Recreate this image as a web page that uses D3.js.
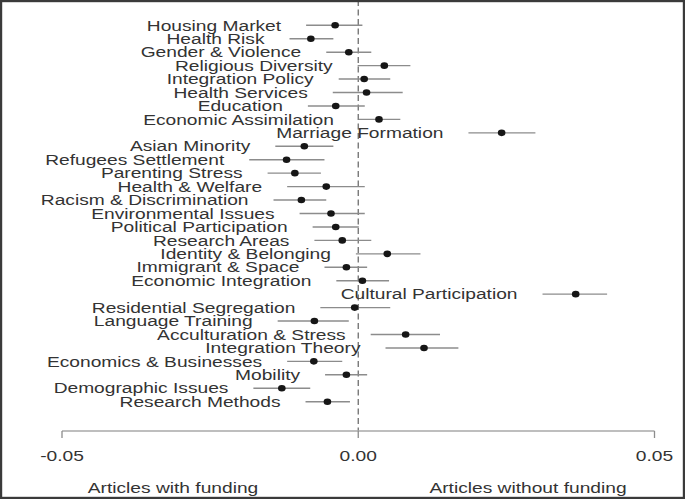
<!DOCTYPE html>
<html>
<head>
<meta charset="utf-8">
<script src="https://cdn.jsdelivr.net/npm/d3@7"></script>
<style>
  body { margin: 0; background: #fff; }
  text { font-family: 'Liberation Sans', Arial, sans-serif; }
</style>
</head>
<body>
<div id="chart"></div>
<script>
let topics = ['Housing Market', 'Health Risk', 'Gender & Violence', 'Religious Diversity',
  'Integration Policy', 'Health Services', 'Education', 'Economic Assimilation',
  'Marriage Formation', 'Asian Minority', 'Refugees Settlement', 'Parenting Stress',
  'Health & Welfare', 'Racism & Discrimination', 'Environmental Issues', 'Political Participation',
  'Research Areas', 'Identity & Belonging', 'Immigrant & Space', 'Economic Integration',
  'Cultural Participation', 'Residential Segregation', 'Language Training', 'Acculturation & Stress',
  'Integration Theory', 'Economics & Businesses', 'Mobility', 'Demographic Issues', 'Research Methods']

let estimate = [-0.0039, -0.0080, -0.0016, 0.0044, 0.0010, 0.0014, -0.0038, 0.0035,
  0.0242, -0.0091, -0.0121, -0.0107, -0.0054, -0.0096, -0.0046, -0.0038,
  -0.0027, 0.0049, -0.0020, 0.0007, 0.0367, -0.0006, -0.0074, 0.0080,
  0.0111, -0.0075, -0.0020, -0.0129, -0.0052]

let lower = [-0.0088, -0.0116, -0.0054, -0.0001, -0.0033, -0.0043, -0.0085, 0.0001,
  0.0186, -0.0140, -0.0184, -0.0153, -0.0120, -0.0143, -0.0099, -0.0077,
  -0.0074, -0.0004, -0.0057, -0.0037, 0.0311, -0.0064, -0.0136, 0.0021,
  0.0046, -0.0120, -0.0056, -0.0177, -0.0089]

let upper = [0.0007, -0.0042, 0.0022, 0.0088, 0.0054, 0.0075, 0.0011, 0.0071,
  0.0299, -0.0042, -0.0057, -0.0063, 0.0011, -0.0054, 0.0011, 0.0001,
  0.0022, 0.0105, 0.0015, 0.0052, 0.0420, 0.0054, -0.0016, 0.0138,
  0.0169, -0.0027, 0.0015, -0.0081, -0.0014]

let ticks = [-0.05, 0, 0.05]
let sideLabels = ['Articles with funding', 'Articles without funding']

let width = 685
let height = 499
let stretch = 1.37

let rows = topics.map((t, i) => ({ topic: t, est: estimate[i], lo: lower[i], hi: upper[i] }))

let svg = d3
  .select('#chart')
  .append('svg')
  .attr('width', width)
  .attr('height', height)

let x = d3.scaleLinear().domain([-0.05, 0.05]).range([62, 654.5])
let y = d3.scalePoint().domain(topics).range([25.3, 401.7])

// stretched text helper (reference text is wide)
function wideText(sel, px, py) {
  return sel.attr('transform', `translate(${px},${py}) scale(${stretch},1)`)
}

// zero line
svg
  .append('line')
  .attr('x1', x(0))
  .attr('x2', x(0))
  .attr('y1', 0)
  .attr('y2', 431)
  .attr('stroke', '#6e6e6e')
  .attr('stroke-width', 1.3)
  .attr('stroke-dasharray', '6,3.5')

// confidence intervals
svg
  .selectAll('.ci')
  .data(rows)
  .enter()
  .append('line')
  .attr('class', 'ci')
  .attr('x1', d => x(d.lo))
  .attr('x2', d => x(d.hi))
  .attr('y1', d => y(d.topic))
  .attr('y2', d => y(d.topic))
  .attr('stroke', '#8c8c8c')
  .attr('stroke-width', 1.4)

svg
  .selectAll('.dot')
  .data(rows)
  .enter()
  .append('ellipse')
  .attr('class', 'dot')
  .attr('cx', d => x(d.est))
  .attr('cy', d => y(d.topic))
  .attr('rx', 3.8)
  .attr('ry', 3.3)
  .attr('fill', '#161616')

// topic labels, right aligned before each interval
svg
  .selectAll('.label')
  .data(rows)
  .enter()
  .append('text')
  .attr('class', 'label')
  .each(function(d) {
    wideText(d3.select(this), x(d.lo) - 25, y(d.topic) + 5.2)
  })
  .attr('text-anchor', 'end')
  .attr('font-size', 14)
  .attr('fill', '#333')
  .text(d => d.topic)

// bottom axis
let axis = svg.append('g').attr('transform', 'translate(0,431)')
axis
  .append('line')
  .attr('x1', x(-0.05))
  .attr('x2', x(0.05))
  .attr('stroke', '#a8a8a8')
  .attr('stroke-width', 1.3)

axis
  .selectAll('.tick')
  .data(ticks)
  .enter()
  .append('line')
  .attr('x1', d => x(d))
  .attr('x2', d => x(d))
  .attr('y1', 0)
  .attr('y2', 7)
  .attr('stroke', '#8c8c8c')
  .attr('stroke-width', 1.3)

axis
  .selectAll('.tick-label')
  .data(ticks)
  .enter()
  .append('text')
  .each(function(d) {
    wideText(d3.select(this), x(d), 29.5)
  })
  .attr('text-anchor', 'middle')
  .attr('font-size', 14)
  .attr('fill', '#333')
  .text(d => d3.format('.2f')(d).replace('−', '-'))

svg
  .selectAll('.side')
  .data(sideLabels)
  .enter()
  .append('text')
  .each(function(d, i) {
    wideText(d3.select(this), i === 0 ? 173 : 528, 493)
  })
  .attr('text-anchor', 'middle')
  .attr('font-size', 14)
  .attr('fill', '#333')
  .text(d => d)

// frame
svg
  .append('rect')
  .attr('x', 1)
  .attr('y', 1)
  .attr('width', width - 2)
  .attr('height', height - 2)
  .attr('fill', 'none')
  .attr('stroke', '#3a3a3a')
  .attr('stroke-width', 2.4)
</script>
</body>
</html>
